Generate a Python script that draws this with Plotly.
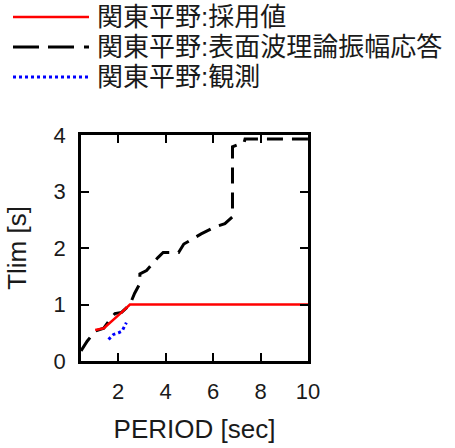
import plotly.graph_objects as go

# Data
theory_x = [0.44, 0.7, 1.04, 1.4, 1.6, 1.87, 2.15, 2.5, 2.7, 2.92, 2.92, 3.2, 3.68, 3.9, 4.55, 4.77, 5.14, 5.5, 6.07, 6.5, 6.82, 6.82, 7.0, 7.3, 7.35, 10.0]
theory_y = [0.18, 0.35, 0.53, 0.58, 0.7, 0.84, 0.86, 1.0, 1.2, 1.37, 1.54, 1.6, 1.83, 1.92, 1.92, 2.07, 2.16, 2.25, 2.37, 2.43, 2.55, 3.79, 3.82, 3.85, 3.93, 3.93]

adopted_x = [1.04, 1.4, 2.15, 2.5, 10.0]
adopted_y = [0.55, 0.58, 0.86, 1.0, 1.0]

obs_x = [1.6, 1.81, 2.02, 2.17, 2.35]
obs_y = [0.38, 0.47, 0.5, 0.53, 0.68]

legend_names = ["関東平野:採用値", "関東平野:表面波理論振幅応答", "関東平野:観測"]
x_ticks = [2, 4, 6, 8, 10]
y_ticks = [0, 1, 2, 3, 4]

W, H = 455, 448
L, R, T, B = 81, 147, 135, 87

fig = go.Figure()
fig.add_trace(go.Scatter(x=theory_x, y=theory_y, mode="lines",
                         line=dict(color="black", width=3, dash="16px,9px"),
                         name=legend_names[1], showlegend=False))
fig.add_trace(go.Scatter(x=adopted_x, y=adopted_y, mode="lines",
                         line=dict(color="#ff0000", width=2.5),
                         name=legend_names[0], showlegend=False))
fig.add_trace(go.Scatter(x=obs_x, y=obs_y, mode="lines",
                         line=dict(color="#0000ff", width=3, dash="dot"),
                         name=legend_names[2], showlegend=False))

pw = W - L - R
ph = H - T - B
def px(x):
    return (x - L) / pw
def py(y):
    return (H - B - y) / ph

shapes = []
annotations = []
leg_rows = [17, 47, 77]
styles = [dict(color="#ff0000", width=2.5),
          dict(color="black", width=3, dash="26px,9px,26px,10px,5px,9px"),
          dict(color="#0000ff", width=3, dash="dot")]
for yy, st, name in zip(leg_rows, styles, legend_names):
    shapes.append(dict(type="line", xref="paper", yref="paper",
                       x0=px(13), x1=px(89), y0=py(yy), y1=py(yy), line=st))
    annotations.append(dict(xref="paper", yref="paper", x=px(95), y=py(yy),
                            xanchor="left", yanchor="middle", showarrow=False,
                            text=name,
                            font=dict(family="Liberation Sans, Noto Sans CJK JP",
                                      size=26, color="#1a1a1a")))

fig.update_layout(
    width=W, height=H,
    margin=dict(l=L, r=R, t=T, b=B),
    paper_bgcolor="white", plot_bgcolor="white",
    font=dict(family="Liberation Sans, Arial", size=22, color="#1a1a1a"),
    shapes=shapes, annotations=annotations,
    showlegend=False,
    xaxis=dict(range=[0.44, 10], tickvals=x_ticks, ticks="inside",
               ticklen=8, tickwidth=2, tickcolor="black", showline=True,
               linecolor="black", linewidth=2.5, mirror="ticks", showgrid=False,
               zeroline=False, automargin=False, ticklabelstandoff=9,
               title=dict(text="PERIOD [sec]", standoff=17)),
    yaxis=dict(range=[0, 4], tickvals=y_ticks, ticks="inside",
               ticklen=8, tickwidth=2, tickcolor="black", showline=True,
               linecolor="black", linewidth=2.5, mirror="ticks", showgrid=False,
               zeroline=False, automargin=False, ticklabelstandoff=8,
               title=dict(text="Tlim [s]", standoff=20)),
)

fig.write_html("out.html", config={"displayModeBar": False},
               post_script="document.body.style.margin='0';")
